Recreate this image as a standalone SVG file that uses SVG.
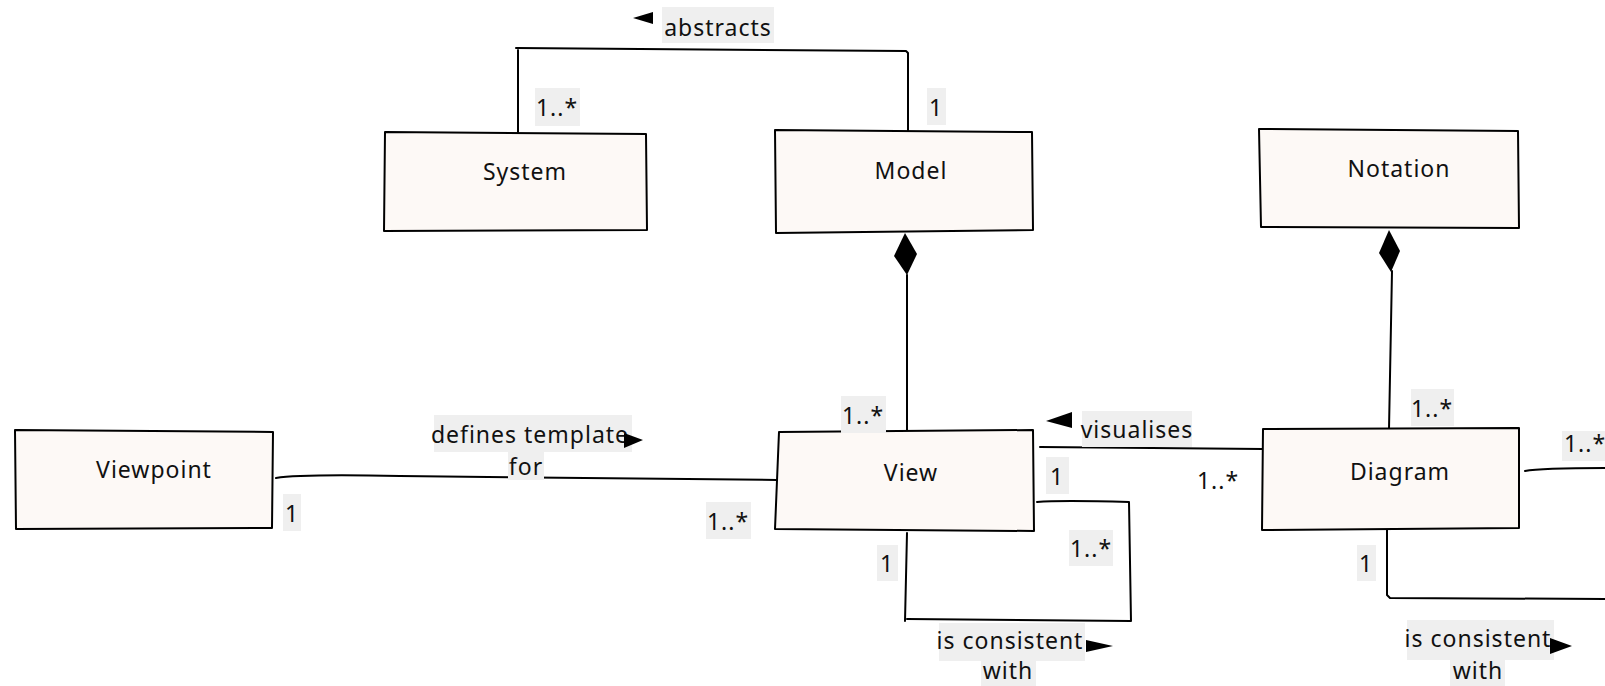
<svg xmlns="http://www.w3.org/2000/svg" width="1605" height="686" viewBox="0 0 1605 686">
<defs>
<style>
.box{fill:#fdf9f6;stroke:#000;stroke-width:2;stroke-linejoin:round}
.ln{fill:none;stroke:#000;stroke-width:2;stroke-linecap:round;stroke-linejoin:round}
.t{font-family:"Noto Sans","DejaVu Sans",sans-serif;font-size:23px;fill:#111;text-anchor:middle;letter-spacing:1px}
.bg{fill:#efefef}
.tri{fill:#000}
</style>
</defs>
<rect width="1605" height="686" fill="#fff"/>
<g id="connectors">
<path class="ln" d="M518,132 L518,50 M516,48 L906,51 L908,53 L908,131"/>
<path class="ln" d="M907,275 L907,432"/>
<path class="tri" d="M905,233 L917,254 L907,275 L894,256 Z"/>
<path class="ln" d="M1392,271 L1389,429"/>
<path class="tri" d="M1389,230 L1400,251 L1391,272 L1379,253 Z"/>
<path class="ln" d="M276,478 Q300,474 400,476 L777,480"/>
<path class="ln" d="M1040,447 L1263,449"/>
<path class="ln" d="M1037,502 Q1060,500 1129,502 L1131,621 L907,619 M905,621 L907,533"/>
<path class="ln" d="M1525,471 Q1540,468 1605,468"/>
<path class="ln" d="M1387,529 L1387,595 L1390,598 L1605,599"/>
</g>
<g id="System">
<path class="box" d="M385,132 L646,134 L647,230 L384,231 Z"/>
<text class="t" x="525" y="180">System</text>
</g>
<g id="Model">
<path class="box" d="M775,130 L1032,132 L1033,230 L776,233 Z"/>
<text class="t" x="911" y="179">Model</text>
</g>
<g id="Notation">
<path class="box" d="M1259,129 L1518,131 L1519,228 L1261,227 Z"/>
<text class="t" x="1399" y="177">Notation</text>
</g>
<g id="Viewpoint">
<path class="box" d="M15,430 L273,432 L272,528 L16,529 Z"/>
<text class="t" x="154" y="478">Viewpoint</text>
</g>
<g id="View">
<path class="box" d="M779,432 L1033,430 L1034,531 L775,529 Z"/>
<text class="t" x="911" y="481">View</text>
</g>
<g id="Diagram">
<path class="box" d="M1263,429 L1519,428 L1519,528 L1262,530 Z"/>
<text class="t" x="1400" y="480">Diagram</text>
</g>
<g id="labels">
<rect class="bg" x="662" y="7" width="112" height="36"/>
<text class="t" x="718" y="36">abstracts</text>
<path class="tri" d="M633,18 L653,12 L653,24 Z"/>
<rect class="bg" x="535" y="88" width="45" height="38"/>
<text class="t" x="557" y="116">1..*</text>
<rect class="bg" x="927" y="88" width="19" height="37"/>
<text class="t" x="936" y="116">1</text>
<rect class="bg" x="841" y="396" width="45" height="37"/>
<text class="t" x="863" y="424">1..*</text>
<rect class="bg" x="1411" y="389" width="43" height="37"/>
<text class="t" x="1432" y="417">1..*</text>
<rect class="bg" x="434" y="415" width="198" height="37"/>
<text class="t" x="530" y="443">defines template</text>
<rect class="bg" x="508" y="452" width="36" height="28"/>
<text class="t" x="526" y="475">for</text>
<path class="tri" d="M624,433 L643,440 L624,448 Z"/>
<rect class="bg" x="283" y="494" width="18" height="37"/>
<text class="t" x="292" y="522">1</text>
<rect class="bg" x="706" y="502" width="45" height="37"/>
<text class="t" x="728" y="530">1..*</text>
<rect class="bg" x="1082" y="411" width="110" height="36"/>
<text class="t" x="1137" y="438">visualises</text>
<path class="tri" d="M1046,421 L1072,412 L1072,428 Z"/>
<rect class="bg" x="1046" y="457" width="23" height="37"/>
<text class="t" x="1057" y="485">1</text>
<text class="t" x="1218" y="489">1..*</text>
<rect class="bg" x="1562" y="431" width="43" height="30"/>
<text class="t" x="1585" y="452">1..*</text>
<rect class="bg" x="877" y="545" width="21" height="36"/>
<text class="t" x="887" y="572">1</text>
<rect class="bg" x="1069" y="530" width="44" height="36"/>
<text class="t" x="1091" y="557">1..*</text>
<rect class="bg" x="939" y="623" width="146" height="38"/>
<text class="t" x="1010" y="649">is consistent</text>
<rect class="bg" x="981" y="661" width="55" height="25"/>
<text class="t" x="1008" y="679">with</text>
<path class="tri" d="M1086,640 L1113,646 L1086,652 Z"/>
<rect class="bg" x="1357" y="545" width="19" height="36"/>
<text class="t" x="1366" y="572">1</text>
<rect class="bg" x="1407" y="620" width="147" height="40"/>
<text class="t" x="1478" y="647">is consistent</text>
<rect class="bg" x="1450" y="660" width="55" height="26"/>
<text class="t" x="1478" y="679">with</text>
<path class="tri" d="M1550,638 L1572,646 L1550,654 Z"/>
</g>
</svg>
